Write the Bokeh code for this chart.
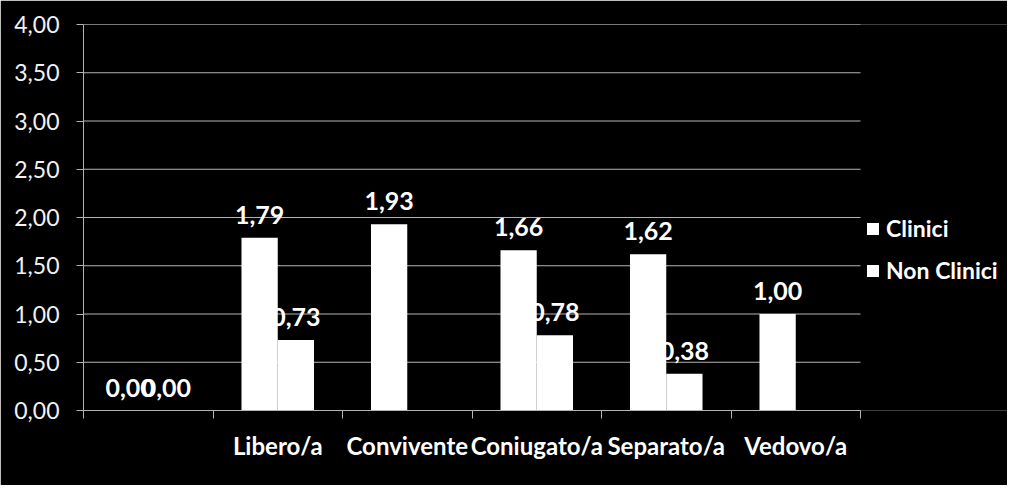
from bokeh.plotting import figure
from bokeh.models import (Range1d, LinearAxis, FixedTicker, ColumnDataSource,
                          Legend, LegendItem)
from bokeh.transform import dodge
from bokeh.core.properties import value
from bokeh.embed import file_html
from bokeh.resources import INLINE

categories = ["", "Libero/a", "Convivente", "Coniugato/a", "Separato/a", "Vedovo/a"]
clinici = [0.00, 1.79, 1.93, 1.66, 1.62, 1.00]
non_clinici = [0.00, 0.73, None, 0.78, 0.38, None]
series_names = ["Clinici", "Non Clinici"]
y_ticks = [0.0, 0.5, 1.0, 1.5, 2.0, 2.5, 3.0, 3.5, 4.0]
y_tick_labels = ["0,00", "0,50", "1,00", "1,50", "2,00", "2,50", "3,00", "3,50", "4,00"]

FONT = "Lato"
GRID = "#b4b4b4"
W, H = 1007, 485
LEFT, TOP, BOTTOM = 83, 24, 75
PLOT_RIGHT = 860          # right edge of the category area (px)
n = len(categories)
centers = [i + 0.5 for i in range(n)]
x_end = n * (W - LEFT) / (PLOT_RIGHT - LEFT)   # extra room on the right for the legend


def fmt(v):
    return f"{v:.2f}".replace(".", ",")


src_c = ColumnDataSource(dict(x=centers, top=clinici, label=[fmt(v) for v in clinici]))
nc_x = [c for c, v in zip(centers, non_clinici) if v is not None]
nc_v = [v for v in non_clinici if v is not None]
src_n = ColumnDataSource(dict(x=nc_x, top=nc_v, label=[fmt(v) for v in nc_v]))
src_g = ColumnDataSource(dict(y=y_ticks, x0=[0] * len(y_ticks), x1=[n] * len(y_ticks)))

p = figure(width=W, height=H,
           x_range=Range1d(0, x_end), y_range=Range1d(y_ticks[0], y_ticks[-1]),
           x_axis_type=None, y_axis_type=None,
           output_backend="svg", toolbar_location=None,
           background_fill_color="black", border_fill_color="black",
           outline_line_color=None,
           min_border_left=LEFT, min_border_right=0, min_border_top=TOP,
           min_border_bottom=BOTTOM)

# horizontal gridlines, limited to the category area
p.segment(x0="x0", x1="x1", y0="y", y1="y", source=src_g, line_color=GRID, line_width=1)

yaxis = LinearAxis(ticker=FixedTicker(ticks=y_ticks),
                   major_label_overrides={t: l for t, l in zip(y_ticks, y_tick_labels)},
                   axis_line_color=GRID, major_tick_line_color=GRID,
                   major_tick_out=7, major_tick_in=0, minor_tick_line_color=None,
                   major_label_standoff=17,
                   major_label_text_color="#f2f2f2", major_label_text_font=FONT,
                   major_label_text_font_size="23px")
p.add_layout(yaxis, "left")

xaxis = LinearAxis(ticker=FixedTicker(ticks=centers, minor_ticks=list(range(n + 1))),
                   bounds=(0, n),
                   major_label_overrides={c: l for c, l in zip(centers, categories)},
                   axis_line_color=GRID, major_tick_line_color=None,
                   major_tick_out=0, major_tick_in=0,
                   minor_tick_line_color=GRID, minor_tick_out=8, minor_tick_in=0,
                   major_label_standoff=12,
                   major_label_text_color="white", major_label_text_font=FONT,
                   major_label_text_font_style="bold",
                   major_label_text_font_size="24px")
p.add_layout(xaxis, "below")

r1 = p.vbar(x=dodge("x", -0.14), top="top", bottom=0, width=0.28, source=src_c,
            fill_color="white", line_color=None)
r2 = p.vbar(x=dodge("x", 0.14), top="top", bottom=0, width=0.28, source=src_n,
            fill_color="white", line_color=None)

for src, off in ((src_c, -0.14), (src_n, 0.14)):
    p.text(x=dodge("x", off), y="top", text="label", source=src, y_offset=-23,
           text_align="center", text_baseline="alphabetic",
           text_font=value(FONT), text_font_style="bold", text_font_size="25px",
           text_color="white")

legend = Legend(items=[LegendItem(label=series_names[0], renderers=[r1]),
                       LegendItem(label=series_names[1], renderers=[r2])],
                location=(782, 126), orientation="vertical",
                glyph_width=15, glyph_height=15, label_height=26, spacing=14,
                padding=0, margin=0, border_line_color=None, background_fill_alpha=0,
                label_text_color="white", label_text_font=FONT,
                label_text_font_style="bold", label_text_font_size="23px",
                label_standoff=6)
p.add_layout(legend)

html = file_html(p, INLINE)
html = html.replace("<body>", '<body style="background-color:#000000;">', 1)
open("out.html", "w").write(html)
